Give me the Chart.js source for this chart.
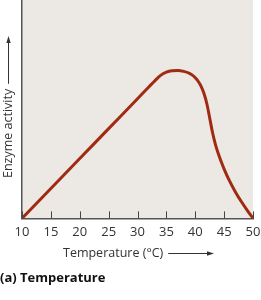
<!DOCTYPE html>
<html>
<head>
<meta charset="utf-8">
<script src="https://cdn.jsdelivr.net/npm/chart.js@4"></script>
<style>
  html, body { margin: 0; padding: 0; background: #fff; }
  #wrap { width: 261px; height: 300px; }
</style>
</head>
<body>
<div id="wrap"><canvas id="enzymeChart" width="261" height="300"></canvas></div>
<script>
// temperature (°C) and relative enzyme activity
const temps    = [10, 15, 20, 25, 30, 32, 33, 34, 35, 36, 37, 38, 39, 39.5, 40, 40.5, 41, 41.5, 42, 42.5, 43, 43.5, 44, 44.5, 45, 46, 47, 48, 49, 50];
const activity = [0, 13.7, 27.4, 41.1, 54.8, 60.3, 63.0, 65.5, 67.0, 67.6, 67.7, 67.3, 66.4, 65.6, 64.4, 62.8, 60.6, 57.3, 52.6, 46.0, 39.2, 33.8, 29.6, 25.9, 22.6, 16.8, 11.9, 7.6, 3.7, 0];
const xTicks   = [10, 15, 20, 25, 30, 35, 40, 45, 50];

const xTitle = 'Temperature (°C)';
const yTitle = 'Enzyme activity';
const caption = '(a) Temperature';

const font = '"Open Sans", "Noto Sans", sans-serif';

function arrow(ctx, x1, y1, x2, y2) {
  ctx.beginPath();
  ctx.moveTo(x1, y1);
  ctx.lineTo(x2, y2);
  ctx.stroke();
  const a = Math.atan2(y2 - y1, x2 - x1);
  ctx.beginPath();
  ctx.moveTo(x2 + Math.cos(a) * 2, y2 + Math.sin(a) * 2);
  ctx.lineTo(x2 - Math.cos(a) * 5 + Math.sin(a) * 2.2, y2 - Math.sin(a) * 5 - Math.cos(a) * 2.2);
  ctx.lineTo(x2 - Math.cos(a) * 5 - Math.sin(a) * 2.2, y2 - Math.sin(a) * 5 + Math.cos(a) * 2.2);
  ctx.closePath();
  ctx.fill();
}

const decor = {
  id: 'decor',
  beforeDraw(chart) {
    const { ctx, chartArea: a } = chart;
    ctx.save();
    ctx.fillStyle = '#ece8e3';
    ctx.fillRect(a.left, a.top, a.right - a.left, a.bottom - a.top);
    ctx.restore();
  },
  afterDraw(chart) {
    const { ctx, chartArea: a } = chart;
    const xs = chart.scales.x;
    ctx.save();
    // inward tick marks
    ctx.strokeStyle = '#444';
    ctx.lineWidth = 1;
    xTicks.forEach(t => {
      const px = Math.round(xs.getPixelForValue(t)) + 0.5;
      ctx.beginPath();
      ctx.moveTo(px, a.bottom);
      ctx.lineTo(px, a.bottom - 7);
      ctx.stroke();
    });

    ctx.fillStyle = '#333';
    ctx.strokeStyle = '#333';
    ctx.textBaseline = 'middle';

    // x title + arrow
    ctx.font = '12.5px ' + font;
    ctx.textAlign = 'left';
    ctx.fillText(xTitle, 63, 253);
    const w = ctx.measureText(xTitle).width;
    arrow(ctx, 63 + w + 5, 253.5, 212, 253.5);

    // y title + arrow
    ctx.save();
    ctx.translate(8.5, 178);
    ctx.rotate(-Math.PI / 2);
    ctx.textAlign = 'left';
    ctx.fillText(yTitle, 0, 0);
    const wy = ctx.measureText(yTitle).width;
    ctx.restore();
    arrow(ctx, 8.5, 178 - wy - 5, 8.5, 38);

    // caption
    ctx.fillStyle = '#111';
    ctx.font = 'bold 13px ' + font;
    ctx.fillText(caption, 0, 278);
    ctx.restore();
  }
};

new Chart(document.getElementById('enzymeChart').getContext('2d'), {
  type: 'line',
  data: {
    datasets: [{
      data: temps.map((t, i) => ({ x: t, y: activity[i] })),
      borderColor: '#a02a12',
      borderWidth: 3,
      pointRadius: 0,
      cubicInterpolationMode: 'monotone',
      fill: false
    }]
  },
  options: {
    responsive: false,
    animation: false,
    layout: { padding: { left: 14, right: 8, top: 0, bottom: 54 } },
    plugins: { legend: { display: false }, tooltip: { enabled: false } },
    scales: {
      x: {
        type: 'linear',
        min: 10, max: 50,
        afterBuildTicks: s => { s.ticks = xTicks.map(v => ({ value: v })); },
        afterFit: s => { s.paddingLeft = 0; s.paddingRight = 0; },
        grid: { display: false, drawTicks: false },
        border: { display: true, color: '#555', width: 1.5 },
        ticks: { color: '#333', font: { family: font, size: 13 }, padding: 6, maxRotation: 0, autoSkip: false }
      },
      y: {
        min: 0, max: 100,
        grid: { display: false },
        border: { display: true, color: '#555', width: 1.5 },
        ticks: { display: false }
      }
    }
  },
  plugins: [decor]
});
</script>
</body>
</html>
